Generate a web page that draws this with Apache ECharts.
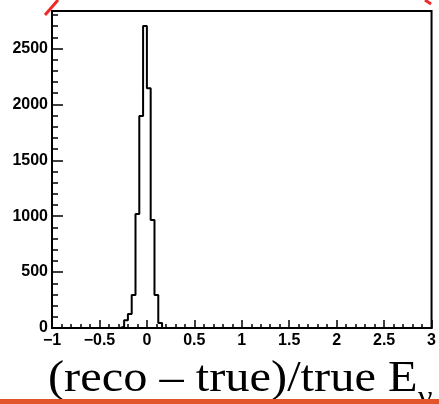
<!DOCTYPE html>
<html>
<head>
<meta charset="utf-8">
<script src="https://cdn.jsdelivr.net/npm/echarts@6/dist/echarts.min.js"></script>
<style>
html,body{margin:0;padding:0;background:#fff;}
#chart{width:439px;height:404px;}
</style>
</head>
<body>
<div id="chart"></div>
<script>
// ---- data ----
const xTickLabels = ["\u22121", "\u22120.5", "0", "0.5", "1", "1.5", "2", "2.5", "3"];
const xTickValues = [-1, -0.5, 0, 0.5, 1, 1.5, 2, 2.5, 3];
const yTickLabels = ["0", "500", "1000", "1500", "2000", "2500"];
const yTickValues = [0, 500, 1000, 1500, 2000, 2500];
const binLowEdges = [-0.28, -0.24, -0.20, -0.16, -0.12, -0.08, -0.04, 0.00, 0.04, 0.08, 0.12];
const binCounts   = [12, 70, 125, 295, 1020, 1895, 2700, 2145, 965, 295, 45];
const binWidth = 0.04;
const xMin = -1, xMax = 3;
const yMax = 2835;
const xTitleMain = "(reco \u2013 true)/true E";
const xTitleSub = "\u03bd";

// histogram outline points (step drawn by library)
const histPts = [[xMin, 0]];
for (let i = 0; i < binLowEdges.length; i++) histPts.push([binLowEdges[i], binCounts[i]]);
histPts.push([binLowEdges[binLowEdges.length - 1] + binWidth, 0]);
histPts.push([xMax, 0]);

const yMinorTicks = [];
for (let v = 100; v < yMax; v += 100) yMinorTicks.push(v);

const labelFont = { fontFamily: '"Liberation Sans", Arial, sans-serif', fontWeight: 'bold', fontSize: 16, color: '#000' };

const chart = echarts.init(document.getElementById('chart'), null, { renderer: 'canvas' });
chart.setOption({
  animation: false,
  backgroundColor: '#fff',
  grid: { left: 52, right: 3, top: 11, bottom: 76, show: true, borderColor: '#000', borderWidth: 2, backgroundColor: 'transparent' },
  xAxis: {
    type: 'value', min: xMin, max: xMax, interval: 0.5,
    axisLine: { show: true, onZero: false, lineStyle: { color: '#000', width: 2 } },
    axisTick: { show: true, inside: true, length: 8, lineStyle: { color: '#000', width: 1.5 } },
    minorTick: { show: true, splitNumber: 5, length: 4, lineStyle: { color: '#000', width: 1.5 } },
    splitLine: { show: false },
    axisLabel: Object.assign({ margin: 5, formatter: function (v) {
      const i = xTickValues.findIndex(t => Math.abs(t - v) < 1e-6);
      return i >= 0 ? xTickLabels[i] : '';
    } }, labelFont)
  },
  yAxis: [{
    type: 'value', min: 0, max: yMax, position: 'left',
    axisLine: { show: true, onZero: false, lineStyle: { color: '#000', width: 2 } },
    axisTick: { show: true, inside: true, length: 11, customValues: yTickValues, lineStyle: { color: '#000', width: 1.5 } },
    splitLine: { show: false },
    axisLabel: Object.assign({ margin: 4, customValues: yTickValues, formatter: function (v) {
      const i = yTickValues.findIndex(t => Math.abs(t - v) < 1e-6);
      return i >= 0 ? yTickLabels[i] : '';
    } }, labelFont)
  }, {
    type: 'value', min: 0, max: yMax, position: 'left', offset: 0,
    axisLine: { show: false, onZero: false },
    axisTick: { show: true, inside: true, length: 6, customValues: yMinorTicks, lineStyle: { color: '#000', width: 1.5 } },
    splitLine: { show: false },
    axisLabel: { show: false }
  }],
  series: [{
    type: 'line', step: 'end', data: histPts, symbol: 'none',
    lineStyle: { color: '#000', width: 2 }, z: 5
  }],
  graphic: [
    { type: 'text', z: 10, x: 48, y: 379, scaleX: 1.1, style: { text: xTitleMain, x: 0, y: 0, font: '44px "Liberation Serif", "Times New Roman", serif', fill: '#000', textVerticalAlign: 'middle', verticalAlign: 'middle' } },
    { type: 'text', z: 10, x: 418, y: 399, style: { text: xTitleSub, x: 0, y: 0, font: '32px "Liberation Serif", "Times New Roman", serif', fill: '#000', textVerticalAlign: 'middle', verticalAlign: 'middle' } },
    { type: 'rect', z: 20, shape: { x: 0, y: 399, width: 439, height: 5 }, style: { fill: '#e2552b' } },
    { type: 'line', z: 20, shape: { x1: 45, y1: 15, x2: 58, y2: 0 }, style: { stroke: '#f02828', lineWidth: 3 } },
    { type: 'line', z: 20, shape: { x1: 425, y1: 0, x2: 431, y2: 4 }, style: { stroke: '#f02828', lineWidth: 3 } }
  ]
});
</script>
</body>
</html>
